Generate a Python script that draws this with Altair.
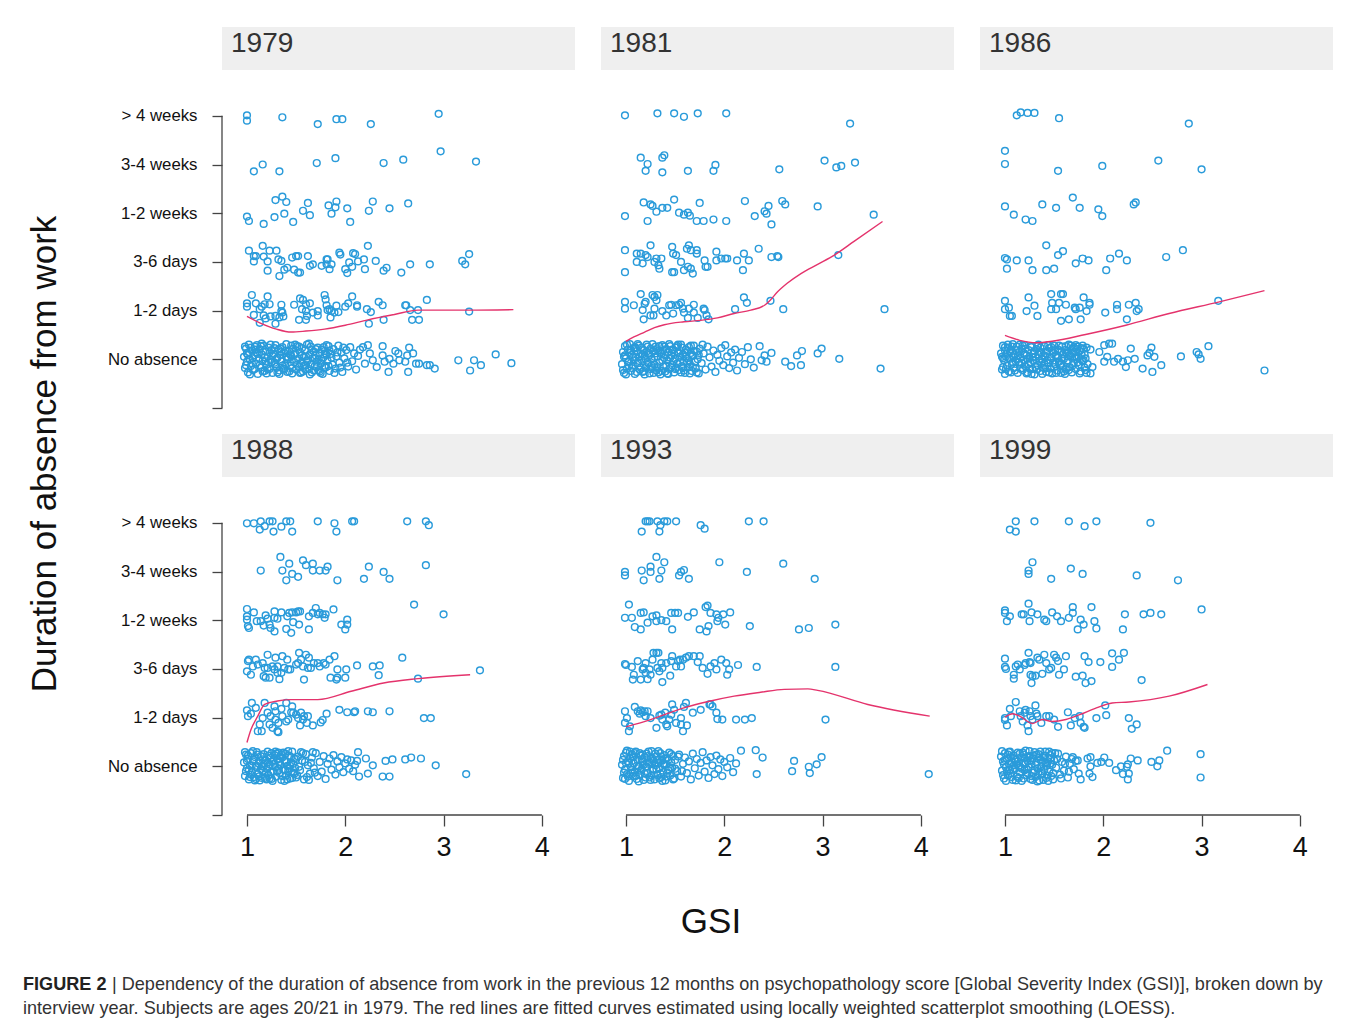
import json
import altair as alt
import pandas as pd

FONT = "Liberation Sans"
BLUE = "#2A9BDA"
RED = "#E4336C"
AXC = "#444444"
STRIP_FILL = "#EFEFEF"

CATEGORIES = ["No absence", "1-2 days", "3-6 days", "1-2 weeks", "3-4 weeks", "> 4 weeks"]
YEARS = ["1979", "1981", "1986", "1988", "1993", "1999"]
X_TICKS = [1, 2, 3, 4]
Y_TICKS = [-1, 0, 1, 2, 3, 4, 5]
Y_TITLE = "Duration of absence from work"
X_TITLE = "GSI"
CAP_BOLD = "FIGURE 2"
CAP_1 = "| Dependency of the duration of absence from work in the previous 12 months on psychopathology score [Global Severity Index (GSI)], broken down by"
CAP_2 = "interview year. Subjects are ages 20/21 in 1979. The red lines are fitted curves estimated using locally weighted scatterplot smoothing (LOESS)."

# ---------------- 1979 (gsi, jittered level) ----------------
P1979_GT4W = [(1.00,5.01),(1.00,4.90),(1.36,4.97),(1.72,4.83),(1.91,4.93),(1.97,4.93),(2.26,4.83),(2.95,5.04)]
P1979_W34 = [(1.07,3.86),(1.16,4.00),(1.33,3.86),(1.71,4.03),(1.90,4.13),(2.39,4.03),(2.59,4.10),(2.97,4.27),(3.33,4.06)]
P1979_W12 = [(1.00,2.93),(1.02,2.84),(1.17,2.78),(1.28,2.92),(1.29,3.27),(1.36,3.34),(1.40,3.23),(1.38,2.99),(1.47,2.82),(1.57,3.05),(1.62,3.21),(1.64,2.96),(1.83,3.16),(1.91,3.24),(1.90,3.12),(1.86,2.99),(2.02,3.10),(2.05,2.82),(2.24,3.05),(2.28,3.24),(2.45,3.10),(2.64,3.20)]
P1979_D36 = [(1.02,2.23),(1.07,2.12),(1.07,2.01),(1.09,2.12),(1.16,2.33),(1.17,2.11),(1.21,2.01),(1.23,2.23),(1.21,1.82),(1.30,2.23),(1.32,2.05),(1.35,2.02),(1.33,1.71),(1.38,1.84),(1.41,1.88),(1.46,2.09),(1.50,2.12),(1.52,2.12),(1.48,1.84),(1.52,1.78),(1.54,1.78),(1.62,2.12),(1.64,1.92),(1.67,1.95),(1.76,1.92),(1.81,2.05),(1.82,2.05),(1.84,1.85),(1.81,1.95),(1.86,1.95),(1.94,2.19),(1.95,2.15),(2.00,1.85),(2.02,1.77),(2.04,1.99),(2.08,2.18),(2.10,2.16),(2.13,2.01),(2.07,1.90),(2.20,1.85),(2.23,2.33),(2.19,2.05),(2.31,2.02),(2.39,1.82),(2.42,1.88),(2.57,1.78),(2.66,1.95),(2.86,1.95),(3.19,2.02),(3.22,1.95),(3.26,2.16)]
P1979_D12 = [(1.00,1.15),(1.00,1.08),(1.05,1.32),(1.09,1.15),(1.07,0.91),(1.13,1.03),(1.15,1.08),(1.18,1.13),(1.21,1.29),(1.23,1.13),(1.17,0.90),(1.13,0.75),(1.19,0.84),(1.24,0.88),(1.29,0.89),(1.29,0.73),(1.35,1.12),(1.35,0.99),(1.36,0.96),(1.33,0.86),(1.37,0.88),(1.48,1.12),(1.54,1.25),(1.57,1.22),(1.56,1.03),(1.53,0.81),(1.60,1.13),(1.60,0.99),(1.61,0.89),(1.60,0.81),(1.64,1.15),(1.67,0.96),(1.72,0.99),(1.72,0.90),(1.79,1.32),(1.80,1.23),(1.81,1.11),(1.82,1.01),(1.84,1.03),(1.86,0.99),(1.89,0.96),(1.91,1.10),(1.93,0.97),(1.85,0.86),(2.00,1.08),(2.03,1.15),(2.07,1.29),(2.12,1.11),(2.12,1.08),(2.22,1.03),(2.26,0.97),(2.24,0.73),(2.34,1.18),(2.38,1.11),(2.39,0.81),(2.61,1.11),(2.62,1.11),(2.66,1.01),(2.68,0.81),(2.74,1.01),(2.75,0.81),(2.83,1.22),(3.26,0.98)]
P1979_NONE = [(0.97,0.05),(0.98,-0.18),(0.99,0.22),(1.00,-0.05),(1.00,0.12),(1.01,-0.27),(1.02,0.30),(1.03,0.00),(1.04,-0.14),(1.05,0.18),(1.06,-0.22),(1.07,0.08),(1.08,0.26),(1.09,-0.09),(1.10,0.14),(1.11,-0.30),(1.12,0.02),(1.13,0.21),(1.14,-0.17),(1.15,0.10),(1.16,-0.03),(1.17,0.28),(1.18,-0.24),(1.19,0.16),(1.20,-0.11),(1.21,0.06),(1.22,0.24),(1.23,-0.20),(1.24,-0.01),(1.25,0.19),(1.26,-0.28),(1.27,0.11),(1.28,-0.07),(1.29,0.29),(1.30,-0.15),(1.31,0.03),(1.32,0.20),(1.33,-0.23),(1.34,0.09),(1.35,-0.04),(1.36,0.25),(1.37,-0.19),(1.38,0.13),(1.39,-0.10),(1.40,0.31),(1.41,-0.26),(1.42,0.04),(1.43,0.17),(1.44,-0.13),(1.45,0.07),(1.46,-0.29),(1.47,0.22),(1.48,-0.06),(1.49,0.12),(1.50,-0.21),(1.51,0.27),(1.52,0.01),(1.53,-0.16),(1.54,0.15),(1.55,-0.08),(1.56,0.23),(1.57,-0.25),(1.58,0.05),(1.59,0.18),(1.60,-0.12),(1.61,0.30),(1.62,-0.02),(1.63,-0.20),(1.64,0.10),(1.65,0.26),(1.66,-0.27),(1.67,0.02),(1.68,0.16),(1.69,-0.14),(1.70,0.08),(1.71,-0.05),(1.72,0.24),(1.73,-0.22),(1.74,0.13),(1.75,-0.09),(1.76,0.20),(1.77,-0.30),(1.78,0.04),(1.79,0.17),(1.80,-0.17),(1.81,0.09),(1.82,-0.03),(1.83,0.27),(1.84,-0.24),(1.85,0.11),(1.87,-0.11),(1.88,0.21),(1.90,-0.19),(1.91,0.06),(1.93,0.28),(1.94,-0.07),(1.96,0.14),(1.97,-0.26),(1.99,0.02),(2.01,0.19),(2.03,-0.15),(2.05,0.25),(2.07,-0.04),(2.09,0.12),(2.11,-0.21),(2.13,0.07),(2.15,0.20),
              (0.98,0.26),(1.01,0.09),(1.03,-0.31),(1.05,-0.08),(1.08,-0.20),(1.10,0.29),(1.13,-0.12),(1.15,0.32),(1.18,0.04),(1.20,-0.29),(1.23,0.14),(1.25,-0.06),(1.28,0.23),(1.30,0.01),(1.33,-0.30),(1.35,0.16),(1.38,-0.21),(1.40,0.05),(1.43,-0.25),(1.45,0.28),(1.48,0.09),(1.50,-0.01),(1.53,0.26),(1.55,-0.27),(1.58,-0.13),(1.60,0.06),(1.63,0.32),(1.65,-0.10),(1.68,-0.23),(1.70,0.21),(1.73,0.00),(1.75,-0.28),(1.78,0.25),(1.80,0.12),(1.83,-0.14),(1.86,0.03),
              (2.18,0.25),(2.23,0.29),(2.25,0.12),(2.20,-0.09),(2.28,-0.02),(2.32,-0.16),(2.38,0.27),(2.38,0.08),(2.40,-0.05),(2.44,-0.26),(2.45,0.01),(2.49,-0.09),(2.51,0.17),(2.54,0.12),(2.55,-0.02),(2.61,-0.05),(2.63,0.08),(2.65,0.24),(2.64,-0.26),(2.69,0.12),(2.72,-0.09),(2.75,-0.09),(2.83,-0.12),(2.86,-0.12),(2.91,-0.19),(3.15,-0.02),(3.31,-0.02),(3.27,-0.23),(3.38,-0.12),(3.53,0.10),(3.69,-0.08)]
P1979_NONE_B = [(0.99,-0.12),(1.02,0.15),(1.04,0.24),(1.06,0.02),(1.09,0.20),(1.11,0.11),(1.14,0.27),(1.16,-0.25),(1.19,-0.04),(1.21,-0.20),(1.24,0.30),(1.26,0.07),(1.29,-0.10),(1.31,-0.27),(1.34,0.22),(1.36,-0.13),(1.39,0.17),(1.41,0.00),(1.44,0.10),(1.46,-0.18),(1.49,0.30),(1.51,-0.11),(1.54,-0.28),(1.56,0.08),(1.59,-0.20),(1.61,-0.04),(1.64,-0.31),(1.66,0.19),(1.69,0.03),(1.71,-0.15),(1.74,-0.25),(1.76,-0.03),(1.79,-0.13),(1.81,0.29),(1.84,0.18),(1.89,-0.28),(1.92,0.14),(1.95,-0.17),(1.98,0.24),(2.02,-0.07)]
L1979 = [(1.00,0.88),(1.13,0.75),(1.30,0.62),(1.45,0.56),(1.60,0.58),(1.79,0.62),(2.00,0.70),(2.23,0.81),(2.50,0.92),(2.74,1.01),(2.91,1.01),(3.25,1.01),(3.71,1.02)]

# ---------------- 1981 ----------------
P1981_GT4W = [(0.99,5.01),(1.32,5.05),(1.49,5.05),(1.59,4.98),(1.73,5.05),(2.02,5.05),(3.28,4.84)]
P1981_W34 = [(1.15,4.14),(1.22,4.01),(1.20,3.87),(1.37,4.14),(1.39,4.19),(1.37,3.84),(1.63,3.87),(1.91,3.99),(1.89,3.87),(2.56,3.90),(3.02,4.08),(3.14,3.94),(3.19,3.97),(3.33,4.04)]
P1981_W12 = [(0.99,2.94),(1.18,3.22),(1.25,3.18),(1.27,3.15),(1.31,3.03),(1.37,3.11),(1.42,3.11),(1.49,3.28),(1.22,2.84),(1.54,3.01),(1.59,2.97),(1.63,3.01),(1.65,2.95),(1.75,3.21),(1.72,2.84),(1.79,2.84),(1.89,2.87),(2.02,2.84),(2.21,3.25),(2.31,2.94),(2.41,3.04),(2.43,2.99),(2.45,3.15),(2.48,2.77),(2.59,3.25),(2.62,3.18),(2.95,3.14),(3.52,2.97)]
P1981_D36 = [(0.99,2.24),(0.99,1.79),(1.11,2.17),(1.11,2.00),(1.15,2.17),(1.17,1.97),(1.20,2.14),(1.22,2.10),(1.25,2.34),(1.29,2.00),(1.31,2.07),(1.33,1.93),(1.34,1.86),(1.36,2.07),(1.47,2.31),(1.48,2.17),(1.51,2.14),(1.47,1.79),(1.49,1.79),(1.56,2.00),(1.59,1.83),(1.62,2.27),(1.64,2.34),(1.66,2.24),(1.63,1.90),(1.66,1.86),(1.68,1.76),(1.72,2.24),(1.72,2.17),(1.80,2.03),(1.83,1.90),(1.81,1.90),(1.92,2.21),(1.92,2.03),(1.97,2.07),(2.01,2.07),(2.03,2.07),(2.13,2.03),(2.20,2.17),(2.19,1.83),(2.25,2.03),(2.35,2.27),(2.48,2.10),(2.54,2.12),(2.55,2.10),(3.16,2.14)]
P1981_D12 = [(0.99,1.18),(0.99,1.04),(1.08,1.11),(1.15,1.34),(1.17,1.01),(1.19,1.14),(1.20,1.18),(1.27,1.32),(1.29,1.28),(1.31,1.21),(1.29,1.04),(1.32,1.32),(1.25,0.90),(1.28,0.90),(1.37,0.99),(1.41,0.90),(1.44,1.11),(1.46,1.12),(1.48,0.94),(1.51,1.11),(1.54,1.12),(1.56,1.16),(1.58,1.04),(1.59,0.96),(1.63,0.85),(1.64,1.04),(1.69,1.12),(1.69,0.96),(1.73,0.85),(1.79,1.04),(1.80,1.01),(1.82,0.90),(1.84,0.82),(2.11,1.03),(2.20,1.27),(2.23,1.16),(2.47,1.20),(2.60,1.03),(3.63,1.03),(1.18,0.82)]
P1981_NONE = [(0.96,-0.10),(0.97,0.15),(0.98,-0.28),(0.99,0.27),(1.00,0.02),(1.01,-0.19),(1.02,0.20),(1.03,-0.04),(1.04,0.31),(1.05,-0.24),(1.06,0.09),(1.07,-0.13),(1.08,0.23),(1.09,-0.30),(1.10,0.04),(1.11,0.17),(1.12,-0.08),(1.13,0.28),(1.14,-0.21),(1.15,0.12),(1.16,-0.01),(1.17,-0.26),(1.18,0.19),(1.19,0.07),(1.20,-0.16),(1.21,0.30),(1.22,-0.06),(1.23,0.13),(1.24,-0.29),(1.25,0.22),(1.26,0.00),(1.27,-0.18),(1.28,0.16),(1.29,-0.11),(1.30,0.26),(1.31,-0.23),(1.32,0.06),(1.33,0.18),(1.34,-0.07),(1.35,-0.31),(1.36,0.11),(1.37,0.29),(1.38,-0.15),(1.39,0.03),(1.40,-0.25),(1.41,0.21),(1.42,-0.02),(1.43,0.14),(1.44,-0.20),(1.45,0.27),(1.46,0.08),(1.47,-0.12),(1.48,0.19),(1.49,-0.27),(1.50,0.01),(1.51,0.24),(1.52,-0.09),(1.53,0.15),(1.54,-0.22),(1.55,0.05),(1.56,0.30),(1.57,-0.14),(1.58,0.10),(1.59,-0.04),(1.60,-0.28),(1.61,0.20),(1.62,0.02),(1.63,-0.17),(1.64,0.25),(1.65,-0.10),(1.66,0.13),(1.67,-0.24),(1.68,0.07),(1.69,0.28),(1.70,-0.05),(1.71,-0.19),(1.72,0.16),(1.73,0.00),(1.74,-0.29),(1.75,0.22),(1.77,-0.08),(1.79,0.12),(1.81,-0.21),(1.83,0.26),(1.85,0.04),(1.87,-0.15),(1.89,0.18),(1.91,-0.26),(1.93,0.09),(1.95,-0.03),(1.97,0.23),(1.99,-0.12),(2.01,0.29),(2.03,0.06),(2.05,-0.18),(2.07,0.14),(2.09,-0.07),(2.11,0.20),(2.13,-0.23),(2.15,0.03),(2.18,0.15),(2.21,-0.10),(2.24,0.25),(2.27,0.00),(2.30,-0.17),
              (0.97,-0.22),(0.99,0.08),(1.01,0.30),(1.03,-0.14),(1.05,0.19),(1.07,0.04),(1.09,0.25),(1.11,-0.26),(1.13,-0.03),(1.15,-0.17),(1.17,0.10),(1.19,-0.31),(1.21,0.16),(1.23,-0.09),(1.25,-0.20),(1.27,0.31),(1.29,0.05),(1.31,0.21),(1.33,-0.27),(1.35,0.14),(1.37,-0.02),(1.39,0.26),(1.41,-0.13),(1.43,-0.30),(1.45,0.03),(1.47,0.20),(1.49,0.11),(1.51,-0.18),(1.53,0.30),(1.55,-0.06),(1.57,0.24),(1.59,-0.23),(1.61,0.06),(1.63,0.17),(1.65,-0.29),(1.67,0.09),
              (2.36,0.27),(2.38,-0.02),(2.43,-0.05),(2.41,0.08),(2.48,0.13),(2.62,-0.05),(2.68,-0.14),(2.74,0.08),(2.79,0.17),(2.78,-0.12),(2.95,0.12),(2.99,0.22),(3.17,0.01),(3.59,-0.19)]
P1981_NONE_B = [(0.98,0.05),(1.00,-0.31),(1.02,-0.06),(1.04,0.13),(1.06,-0.18),(1.08,-0.02),(1.10,0.23),(1.12,0.31),(1.14,0.06),(1.16,0.24),(1.18,-0.24),(1.20,0.01),(1.22,0.26),(1.24,0.09),(1.26,-0.13),(1.28,-0.28),(1.30,0.12),(1.32,-0.16),(1.34,0.27),(1.36,-0.24),(1.38,0.18),(1.40,0.08),(1.42,-0.29),(1.44,0.31),(1.46,-0.16),(1.48,-0.04),(1.50,-0.20),(1.52,0.27),(1.54,0.12),(1.56,-0.27),(1.58,-0.18),(1.60,0.14),(1.62,-0.07),(1.64,-0.02),(1.66,0.28),(1.68,-0.16),(1.70,0.17),(1.72,-0.27),(1.74,0.09),(1.78,0.30)]
L1981 = [(1.00,0.37),(1.08,0.46),(1.19,0.56),(1.29,0.65),(1.39,0.71),(1.59,0.77),(1.76,0.80),(1.93,0.85),(2.10,0.94),(2.27,1.01),(2.41,1.11),(2.47,1.22),(2.54,1.38),(2.64,1.56),(2.78,1.76),(2.95,1.95),(3.12,2.14),(3.32,2.42),(3.61,2.83)]

# ---------------- 1986 ----------------
P1986_GT4W = [(1.12,5.01),(1.16,5.07),(1.23,5.06),(1.30,5.06),(1.55,4.95),(2.87,4.84)]
P1986_W34 = [(1.00,4.28),(1.00,4.01),(1.54,3.87),(1.99,3.97),(2.56,4.08),(3.00,3.90)]
P1986_W12 = [(1.00,3.14),(1.09,2.97),(1.21,2.87),(1.28,2.84),(1.38,3.18),(1.52,3.11),(1.69,3.32),(1.76,3.11),(1.95,3.08),(1.99,2.94),(2.31,3.18),(2.33,3.22)]
P1986_D36 = [(1.00,2.08),(1.02,2.05),(1.02,1.86),(1.12,2.03),(1.24,2.03),(1.28,1.83),(1.42,2.34),(1.42,1.83),(1.50,1.86),(1.54,2.14),(1.59,2.22),(1.72,1.97),(1.79,2.07),(1.85,2.03),(2.03,1.83),(2.07,2.07),(2.16,2.17),(2.24,2.03),(2.64,2.10),(2.81,2.24)]
P1986_D12 = [(1.00,1.20),(1.00,1.03),(1.04,1.06),(1.05,0.89),(1.07,0.89),(1.24,1.27),(1.30,1.10),(1.22,0.99),(1.33,0.89),(1.47,1.34),(1.48,1.16),(1.57,1.34),(1.59,1.34),(1.55,1.16),(1.47,1.03),(1.52,1.03),(1.62,1.12),(1.71,1.06),(1.72,1.03),(1.76,1.06),(1.80,1.27),(1.86,1.16),(1.86,1.12),(1.83,0.99),(1.57,0.79),(1.65,0.82),(1.77,0.82),(2.02,0.96),(2.14,1.12),(2.14,1.03),(2.26,1.12),(2.33,1.16),(2.36,1.03),(2.34,0.99),(2.24,0.82),(3.17,1.20)]
P1986_NONE = [(0.96,0.12),(0.97,-0.21),(0.98,0.28),(0.99,-0.02),(1.00,0.18),(1.00,-0.30),(1.01,0.06),(1.02,-0.13),(1.03,0.24),(1.04,-0.25),(1.05,0.01),(1.06,0.20),(1.07,-0.09),(1.08,0.31),(1.09,-0.18),(1.10,0.10),(1.11,-0.04),(1.12,0.26),(1.13,-0.28),(1.14,0.15),(1.15,-0.11),(1.16,0.04),(1.17,0.22),(1.18,-0.22),(1.19,-0.01),(1.20,0.29),(1.21,-0.15),(1.22,0.08),(1.23,-0.27),(1.24,0.19),(1.25,0.02),(1.26,-0.07),(1.27,0.25),(1.28,-0.20),(1.29,0.12),(1.30,-0.31),(1.31,0.05),(1.32,0.21),(1.33,-0.12),(1.34,0.30),(1.35,-0.03),(1.36,-0.24),(1.37,0.14),(1.38,0.00),(1.39,-0.17),(1.40,0.27),(1.41,0.07),(1.42,-0.26),(1.43,0.17),(1.44,-0.08),(1.45,0.23),(1.46,-0.19),(1.47,0.03),(1.48,-0.29),(1.49,0.13),(1.50,0.28),(1.51,-0.10),(1.52,0.09),(1.53,-0.23),(1.54,0.20),(1.55,-0.05),(1.56,0.16),(1.57,-0.28),(1.58,0.26),(1.59,-0.14),(1.60,0.01),(1.61,0.19),(1.62,-0.21),(1.63,0.11),(1.64,-0.02),(1.65,0.30),(1.66,-0.16),(1.67,0.06),(1.68,-0.27),(1.69,0.22),(1.70,-0.08),(1.71,0.14),(1.72,-0.20),(1.73,0.04),(1.74,0.26),(1.75,-0.12),(1.76,0.17),(1.77,-0.25),(1.78,0.09),(1.79,-0.04),(1.80,0.21),(1.81,-0.17),(1.82,0.02),(1.83,0.24),(1.84,-0.10),
              (0.97,0.05),(0.98,-0.16),(1.00,0.25),(1.02,0.11),(1.04,0.03),(1.06,-0.27),(1.08,-0.06),(1.10,-0.23),(1.12,0.00),(1.14,-0.06),(1.16,-0.19),(1.18,0.28),(1.20,0.09),(1.22,-0.29),(1.24,-0.10),(1.26,0.27),(1.28,0.04),(1.30,0.17),(1.32,-0.21),(1.34,0.10),(1.36,0.24),(1.38,-0.30),(1.40,-0.09),(1.42,0.13),(1.44,0.29),(1.46,-0.02),(1.48,0.18),(1.50,-0.16),(1.52,-0.28),(1.54,0.06),(1.56,-0.12),(1.58,0.02),(1.60,-0.25),(1.62,0.27),(1.64,0.15),(1.66,0.08),(1.68,0.12),(1.70,0.25),(1.72,0.29),(1.74,-0.06),(1.76,-0.29),(1.78,0.23),(1.80,-0.02),(1.82,-0.22),
              (1.87,0.20),(1.89,-0.16),(1.87,-0.29),(1.96,0.15),(2.01,0.29),(2.04,0.05),(2.06,0.32),(2.09,0.32),(2.11,-0.05),(2.01,-0.05),(2.15,0.01),(2.20,-0.05),(2.23,-0.16),(2.25,-0.02),(2.28,0.22),(2.32,0.01),(2.40,-0.19),(2.45,0.08),(2.47,0.13),(2.49,0.24),(2.52,0.05),(2.50,-0.26),(2.59,-0.12),(2.79,0.06),(2.95,0.15),(2.97,0.10),(2.99,0.01),(3.07,0.27),(3.64,-0.23)]
P1986_NONE_B = [(0.98,0.02),(1.01,-0.20),(1.03,0.30),(1.05,0.15),(1.07,0.26),(1.09,0.04),(1.11,0.19),(1.13,0.07),(1.15,0.30),(1.17,-0.08),(1.19,0.13),(1.21,0.22),(1.23,0.01),(1.25,-0.19),(1.27,-0.30),(1.29,-0.03),(1.31,-0.16),(1.33,0.27),(1.35,0.15),(1.37,-0.07),(1.39,0.08),(1.41,-0.19),(1.43,-0.02),(1.45,-0.27),(1.47,0.25),(1.49,-0.07),(1.51,0.19),(1.53,0.03),(1.55,0.28),(1.57,-0.09),(1.59,0.10),(1.61,-0.30),(1.63,-0.07),(1.65,-0.22),(1.67,0.28),(1.69,-0.12),(1.71,0.04),(1.73,0.21),(1.75,0.05),(1.77,0.00),(1.79,0.28),(1.81,0.10),(1.83,-0.28)]
L1986 = [(1.00,0.49),(1.15,0.39),(1.32,0.34),(1.48,0.37),(1.82,0.51),(2.23,0.70),(2.67,0.94),(3.18,1.18),(3.64,1.41)]

# ---------------- 1988 ----------------
P1988_GT4W = [(1.00,4.99),(1.07,4.99),(1.13,4.86),(1.14,5.03),(1.18,4.93),(1.23,5.03),(1.26,5.03),(1.27,4.82),(1.35,4.92),(1.40,5.03),(1.44,5.03),(1.46,4.82),(1.72,5.03),(1.89,4.99),(1.91,4.82),(2.07,5.03),(2.09,5.03),(2.63,5.03),(2.82,5.03),(2.85,4.95)]
P1988_W34 = [(1.14,4.02),(1.34,4.30),(1.36,4.02),(1.43,4.16),(1.40,3.82),(1.46,3.95),(1.52,3.89),(1.57,4.23),(1.60,4.13),(1.67,4.16),(1.67,4.02),(1.74,4.02),(1.80,4.02),(1.82,4.10),(1.92,3.82),(2.19,3.85),(2.24,4.10),(2.39,3.99),(2.45,3.85),(2.82,4.13)]
P1988_W12 = [(1.00,3.23),(1.00,3.08),(1.00,3.01),(1.01,2.88),(1.02,2.84),(1.07,3.16),(1.10,2.98),(1.14,2.98),(1.17,2.89),(1.19,3.10),(1.21,3.03),(1.23,2.91),(1.24,2.84),(1.28,3.18),(1.28,3.05),(1.28,2.77),(1.31,3.03),(1.35,3.16),(1.40,2.82),(1.41,3.08),(1.43,3.15),(1.45,2.74),(1.46,3.16),(1.47,2.96),(1.50,3.16),(1.52,3.18),(1.53,2.91),(1.54,3.18),(1.63,2.81),(1.63,3.08),(1.67,3.15),(1.70,3.25),(1.72,3.12),(1.74,3.15),(1.77,3.12),(1.79,3.05),(1.80,3.12),(1.88,3.22),(1.96,2.91),(2.00,2.81),(2.02,3.01),(2.02,2.91),(2.70,3.32),(3.00,3.12)]
P1988_D36 = [(1.00,1.95),(1.01,2.16),(1.02,2.19),(1.04,1.88),(1.06,2.05),(1.09,2.19),(1.11,2.09),(1.16,2.12),(1.17,1.85),(1.18,2.02),(1.19,1.82),(1.21,2.29),(1.21,2.02),(1.23,1.82),(1.26,2.05),(1.28,1.99),(1.29,2.23),(1.31,1.92),(1.31,2.05),(1.33,1.79),(1.35,1.92),(1.36,2.26),(1.38,2.02),(1.41,2.19),(1.42,1.99),(1.44,1.99),(1.50,2.09),(1.52,2.12),(1.53,2.33),(1.55,2.19),(1.57,2.05),(1.58,1.78),(1.60,2.29),(1.62,2.02),(1.63,2.23),(1.65,2.02),(1.68,2.12),(1.72,2.12),(1.74,2.05),(1.78,2.12),(1.80,2.09),(1.84,2.19),(1.85,1.82),(1.89,2.26),(1.91,1.78),(1.92,1.99),(1.92,1.82),(2.00,1.82),(2.01,1.99),(2.12,2.07),(2.28,2.05),(2.35,2.07),(2.34,1.87),(2.58,2.23),(2.74,1.80),(3.37,1.97)]
P1988_D12 = [(1.00,1.15),(1.01,1.03),(1.04,1.08),(1.05,1.30),(1.09,1.20),(1.13,0.86),(1.11,0.72),(1.15,0.72),(1.16,0.99),(1.18,1.30),(1.21,1.10),(1.23,0.86),(1.24,1.03),(1.26,0.79),(1.28,1.23),(1.29,1.13),(1.29,0.96),(1.31,0.72),(1.32,0.89),(1.32,0.70),(1.35,1.18),(1.36,1.03),(1.40,1.30),(1.40,0.92),(1.42,0.96),(1.45,1.11),(1.46,1.23),(1.47,1.10),(1.50,1.06),(1.52,0.99),(1.54,0.84),(1.55,1.10),(1.57,0.96),(1.58,1.03),(1.61,0.89),(1.62,1.03),(1.67,0.84),(1.75,0.90),(1.77,0.95),(1.81,1.08),(1.94,1.16),(2.02,1.11),(2.09,1.11),(2.10,1.13),(2.23,1.13),(2.28,1.11),(2.45,1.13),(2.80,0.99),(2.87,0.99)]
P1988_NONE = [(0.97,0.08),(0.98,-0.20),(0.99,0.24),(1.00,-0.04),(1.01,0.15),(1.02,-0.27),(1.03,0.02),(1.04,0.27),(1.05,-0.12),(1.06,0.10),(1.07,-0.22),(1.08,0.19),(1.09,-0.02),(1.10,0.29),(1.11,-0.16),(1.12,0.06),(1.13,-0.29),(1.14,0.21),(1.15,0.00),(1.16,-0.09),(1.17,0.25),(1.18,-0.24),(1.19,0.12),(1.20,-0.05),(1.21,0.30),(1.22,-0.18),(1.23,0.04),(1.24,0.17),(1.25,-0.26),(1.26,0.09),(1.27,-0.11),(1.28,0.23),(1.29,-0.01),(1.30,-0.21),(1.31,0.14),(1.32,0.28),(1.33,-0.14),(1.34,0.03),(1.35,-0.28),(1.36,0.18),(1.37,-0.06),(1.38,0.11),(1.39,0.26),(1.40,-0.19),(1.41,0.01),(1.42,-0.10),(1.43,0.22),(1.44,-0.25),(1.45,0.07),(1.46,0.30),(1.47,-0.13),(1.48,0.16),(1.49,-0.03),(1.50,-0.23),(1.52,0.20),(1.54,-0.08),(1.56,0.12),(1.58,-0.27),(1.60,0.25),(1.62,0.02),(1.64,-0.15),(1.66,0.18),(1.68,-0.04),(1.70,0.27),(1.72,-0.20),(1.74,0.09),(1.76,-0.11),(1.78,0.21),(1.80,-0.26),(1.82,0.05),(1.84,0.16),(1.86,-0.07),(1.88,0.23),(1.90,-0.17),(1.92,0.10),(1.94,-0.02),(1.96,0.19),(1.98,-0.12),(2.00,0.06),(2.02,0.14),(2.04,-0.05),(2.06,0.12),(2.08,-0.10),(2.10,0.03),
              (0.98,0.29),(1.00,0.11),(1.02,-0.08),(1.04,-0.17),(1.06,0.31),(1.08,-0.29),(1.10,0.01),(1.12,-0.21),(1.14,-0.06),(1.16,0.14),(1.18,0.06),(1.20,-0.27),(1.22,0.22),(1.24,-0.12),(1.26,-0.30),(1.28,0.05),(1.30,0.26),(1.32,-0.05),(1.34,0.20),(1.36,-0.20),(1.38,-0.30),(1.40,0.09),(1.42,0.31),(1.44,0.01),(1.46,-0.24),(1.48,-0.16),(1.50,0.15),(1.53,-0.01),(1.57,0.27),(1.61,-0.22),(1.65,0.07),(1.69,-0.13),
              (2.13,0.29),(2.12,0.11),(2.14,-0.21),(2.21,0.16),(2.23,-0.15),(2.28,0.02),(2.38,-0.21),(2.41,0.11),(2.45,-0.21),(2.48,0.14),(2.61,0.14),(2.67,0.18),(2.77,0.16),(2.92,0.02),(3.23,-0.16)]
P1988_NONE_B = [(0.99,-0.10),(1.01,0.22),(1.03,-0.22),(1.05,0.02),(1.07,0.13),(1.09,-0.26),(1.11,0.24),(1.13,0.11),(1.15,-0.24),(1.17,0.00),(1.19,-0.14),(1.21,0.08),(1.23,-0.25),(1.25,0.27),(1.27,0.13),(1.29,0.30),(1.31,-0.10),(1.33,0.09),(1.35,0.24),(1.37,0.28),(1.39,-0.08),(1.41,-0.27),(1.43,-0.04),(1.45,0.19),(1.47,0.05),(1.51,-0.18),(1.55,0.29),(1.59,0.09),(1.63,-0.28),(1.67,0.29)]
L1988 = [(1.00,0.49),(1.04,0.75),(1.11,1.03),(1.18,1.27),(1.31,1.34),(1.45,1.37),(1.72,1.37),(2.06,1.54),(2.39,1.71),(2.74,1.80),(3.27,1.88)]

# ---------------- 1993 ----------------
P1993_GT4W = [(1.16,4.82),(1.20,5.03),(1.22,5.03),(1.24,5.03),(1.32,5.03),(1.34,4.82),(1.35,4.95),(1.39,5.03),(1.42,5.03),(1.51,5.03),(1.76,4.95),(1.80,4.88),(2.25,5.03),(2.40,5.03)]
P1993_W34 = [(0.99,3.99),(0.99,3.92),(1.16,4.02),(1.18,3.82),(1.25,4.10),(1.25,3.99),(1.31,4.30),(1.34,3.85),(1.36,4.02),(1.39,4.19),(1.54,3.92),(1.56,3.99),(1.59,4.03),(1.64,3.85),(1.95,4.19),(2.23,3.99),(2.60,4.16),(2.92,3.85)]
P1993_W12 = [(1.03,3.32),(0.99,3.05),(1.06,3.05),(1.09,2.86),(1.15,2.81),(1.15,3.15),(1.18,3.16),(1.22,2.95),(1.27,3.08),(1.31,3.10),(1.31,2.98),(1.36,3.00),(1.41,2.98),(1.46,3.15),(1.47,2.81),(1.50,3.15),(1.53,3.15),(1.63,3.07),(1.69,3.16),(1.75,2.81),(1.81,3.27),(1.83,3.30),(1.84,2.88),(1.82,2.77),(1.86,3.15),(1.92,3.12),(1.93,2.98),(1.94,3.05),(1.99,3.12),(2.01,2.91),(2.06,3.16),(2.26,2.88),(2.76,2.81),(2.86,2.84),(3.13,2.91)]
P1993_D36 = [(0.99,2.10),(1.00,2.08),(1.06,2.04),(1.08,1.88),(1.07,1.78),(1.12,2.16),(1.15,1.78),(1.17,1.99),(1.18,2.02),(1.20,2.12),(1.20,1.92),(1.22,1.79),(1.24,1.99),(1.25,1.88),(1.27,2.19),(1.28,2.33),(1.31,2.33),(1.33,2.33),(1.32,2.02),(1.34,1.95),(1.36,2.12),(1.37,1.73),(1.37,2.02),(1.41,2.12),(1.45,1.86),(1.46,2.16),(1.47,2.26),(1.51,2.05),(1.53,2.16),(1.55,2.19),(1.56,2.05),(1.58,2.19),(1.61,2.23),(1.64,2.26),(1.69,2.26),(1.73,2.14),(1.75,2.26),(1.78,2.02),(1.83,1.90),(1.86,2.05),(1.90,2.12),(1.92,1.99),(1.97,2.19),(2.02,2.12),(2.03,1.88),(2.05,1.99),(2.14,2.08),(2.33,2.04),(3.13,2.04)]
P1993_D12 = [(0.99,1.13),(1.01,0.99),(0.99,0.89),(1.03,0.72),(1.04,0.82),(1.09,1.22),(1.12,1.13),(1.14,1.08),(1.15,1.15),(1.17,1.11),(1.19,1.13),(1.20,1.03),(1.22,1.13),(1.25,0.99),(1.31,0.79),(1.34,1.04),(1.36,1.06),(1.37,0.96),(1.40,1.10),(1.41,0.86),(1.42,0.82),(1.44,0.96),(1.46,1.06),(1.47,1.27),(1.49,1.16),(1.51,0.89),(1.56,0.99),(1.58,0.72),(1.56,0.86),(1.59,1.22),(1.61,1.30),(1.62,0.84),(1.68,1.10),(1.76,1.16),(1.85,1.27),(1.86,1.27),(1.88,1.23),(1.92,1.10),(1.93,0.97),(1.98,0.96),(2.12,0.96),(2.21,0.96),(2.28,0.99),(3.03,0.96)]
P1993_NONE = [(0.96,0.03),(0.97,-0.24),(0.98,0.21),(0.99,-0.07),(1.00,0.28),(1.01,-0.16),(1.02,0.10),(1.03,-0.30),(1.04,0.16),(1.05,-0.02),(1.06,0.25),(1.07,-0.20),(1.08,0.06),(1.09,-0.11),(1.10,0.30),(1.11,-0.26),(1.12,0.13),(1.13,0.00),(1.14,-0.17),(1.15,0.22),(1.16,-0.06),(1.17,0.09),(1.18,-0.28),(1.19,0.19),(1.20,-0.01),(1.21,0.26),(1.22,-0.14),(1.23,0.05),(1.24,-0.23),(1.25,0.15),(1.26,0.31),(1.27,-0.09),(1.28,0.11),(1.29,-0.27),(1.30,0.02),(1.31,0.20),(1.32,-0.18),(1.33,0.07),(1.34,-0.04),(1.35,0.27),(1.36,-0.22),(1.37,0.12),(1.38,-0.12),(1.39,0.23),(1.40,-0.29),(1.41,0.04),(1.42,0.17),(1.43,-0.08),(1.44,0.28),(1.45,-0.19),(1.46,0.08),(1.47,-0.03),(1.48,0.21),(1.49,-0.25),(1.50,0.13),(1.52,-0.10),(1.54,0.24),(1.56,-0.21),(1.58,0.05),(1.60,0.18),(1.62,-0.14),(1.64,0.10),(1.66,-0.27),(1.68,0.26),(1.70,-0.04),(1.72,0.15),(1.74,-0.19),(1.76,0.07),(1.78,0.29),(1.80,-0.11),(1.82,0.12),(1.84,-0.24),(1.86,0.19),(1.88,0.02),(1.90,-0.16),(1.92,0.22),(1.94,-0.06),(1.96,0.14),(1.98,-0.20),(2.00,0.09),(2.03,-0.02),(2.06,0.17),(2.09,-0.12),(2.12,0.06),
              (0.97,0.13),(0.99,-0.26),(1.01,0.32),(1.03,0.07),(1.05,-0.13),(1.07,0.19),(1.09,0.27),(1.11,0.01),(1.13,-0.31),(1.15,-0.09),(1.17,0.24),(1.19,-0.15),(1.21,0.00),(1.23,0.30),(1.25,-0.28),(1.27,0.16),(1.29,0.06),(1.31,-0.06),(1.33,0.31),(1.35,-0.15),(1.37,-0.30),(1.39,0.03),(1.41,-0.21),(1.43,0.13),(1.46,0.25),(1.50,-0.05),
              (2.17,0.32),(2.32,0.33),(2.33,-0.16),(2.39,0.18),(2.71,0.11),(2.69,-0.10),(2.86,-0.01),(2.87,-0.14),(2.94,0.04),(2.99,0.19),(4.08,-0.16)]
P1993_NONE_B = [(0.98,-0.13),(1.00,0.07),(1.02,-0.21),(1.04,0.30),(1.06,-0.08),(1.08,0.20),(1.10,-0.20),(1.12,-0.04),(1.14,0.27),(1.16,0.14),(1.18,0.03),(1.20,-0.23),(1.22,0.21),(1.24,0.08),(1.26,-0.19),(1.28,-0.05),(1.30,0.26),(1.32,0.13),(1.34,-0.25),(1.36,0.20),(1.38,0.05),(1.40,0.15),(1.42,-0.14),(1.45,-0.02),(1.48,-0.27),(1.53,0.20),(1.57,-0.10)]
L1993 = [(1.00,0.81),(1.25,0.96),(1.59,1.20),(1.86,1.34),(2.10,1.44),(2.37,1.52),(2.61,1.58),(2.85,1.59),(2.95,1.56),(3.46,1.27),(4.09,1.03)]

# ---------------- 1999 ----------------
P1999_GT4W = [(1.05,4.86),(1.11,5.03),(1.11,4.82),(1.30,5.03),(1.65,5.03),(1.81,4.93),(1.93,5.03),(2.48,5.00)]
P1999_W34 = [(1.28,4.19),(1.24,4.02),(1.24,3.95),(1.47,3.85),(1.67,4.06),(1.79,3.95),(2.34,3.92),(2.76,3.82)]
P1999_W12 = [(1.00,3.20),(1.00,3.15),(1.02,2.98),(1.05,3.08),(1.17,3.12),(1.19,3.12),(1.24,3.34),(1.25,2.98),(1.27,3.16),(1.33,3.12),(1.40,3.01),(1.42,2.98),(1.48,3.16),(1.53,3.08),(1.57,2.98),(1.65,3.05),(1.69,3.27),(1.69,3.15),(1.74,2.81),(1.77,3.01),(1.80,2.91),(1.88,3.27),(1.91,2.98),(1.93,2.83),(2.20,2.81),(2.22,3.12),(2.41,3.12),(2.48,3.15),(2.59,3.12),(3.00,3.22)]
P1999_D36 = [(1.00,2.21),(1.00,2.04),(1.01,2.00),(1.09,1.88),(1.11,2.05),(1.13,2.09),(1.09,1.80),(1.15,1.99),(1.20,2.08),(1.21,2.12),(1.24,2.33),(1.25,2.14),(1.26,1.88),(1.26,2.12),(1.27,1.71),(1.28,1.85),(1.31,1.86),(1.33,2.23),(1.35,2.19),(1.38,1.90),(1.40,2.29),(1.42,2.12),(1.45,1.99),(1.47,2.02),(1.50,2.29),(1.52,2.23),(1.54,2.16),(1.55,1.88),(1.60,1.99),(1.62,2.26),(1.72,1.84),(1.79,1.86),(1.81,2.26),(1.82,1.71),(1.85,2.14),(1.88,1.75),(1.97,2.14),(2.09,2.32),(2.09,2.04),(2.16,2.19),(2.21,2.33),(2.39,1.77)]
P1999_D12 = [(1.00,0.99),(1.00,0.95),(1.02,0.84),(1.05,1.18),(1.06,1.03),(1.11,1.32),(1.15,1.13),(1.16,1.03),(1.18,0.92),(1.20,1.10),(1.21,1.16),(1.23,0.84),(1.24,0.72),(1.25,1.13),(1.26,1.03),(1.28,0.96),(1.31,1.25),(1.32,1.08),(1.33,1.03),(1.37,0.89),(1.42,1.03),(1.45,1.03),(1.50,0.96),(1.54,0.81),(1.64,1.11),(1.67,0.84),(1.71,0.99),(1.76,1.03),(1.77,0.89),(1.80,0.81),(1.81,0.79),(1.93,0.99),(2.02,1.25),(2.03,1.05),(2.26,0.99),(2.29,0.77),(2.34,0.86)]
P1999_NONE = [(0.96,0.20),(0.97,-0.09),(0.98,0.10),(0.99,-0.25),(1.00,0.27),(1.01,-0.02),(1.02,0.15),(1.03,-0.19),(1.04,0.05),(1.05,0.30),(1.06,-0.14),(1.07,0.09),(1.08,-0.28),(1.09,0.22),(1.10,-0.05),(1.11,0.13),(1.12,-0.21),(1.13,0.28),(1.14,0.01),(1.15,-0.12),(1.16,0.18),(1.17,-0.30),(1.18,0.07),(1.19,0.24),(1.20,-0.08),(1.21,0.32),(1.22,-0.18),(1.23,0.11),(1.24,-0.02),(1.25,0.21),(1.26,-0.26),(1.27,0.04),(1.28,0.16),(1.29,-0.13),(1.30,0.29),(1.31,-0.22),(1.32,0.08),(1.33,-0.04),(1.34,0.25),(1.35,-0.29),(1.36,0.14),(1.37,0.00),(1.38,-0.16),(1.39,0.19),(1.40,-0.07),(1.41,0.30),(1.42,-0.24),(1.43,0.06),(1.44,0.17),(1.45,-0.11),(1.46,0.23),(1.47,-0.20),(1.48,0.03),(1.49,-0.27),(1.50,0.12),(1.52,-0.03),(1.54,0.26),(1.56,-0.17),(1.58,0.09),(1.60,-0.09),(1.62,0.20),(1.64,-0.23),(1.66,0.05),(1.68,0.15),(1.70,-0.06),(1.72,0.11),
              (0.97,0.31),(0.99,0.04),(1.01,-0.30),(1.03,0.24),(1.05,-0.07),(1.07,-0.22),(1.09,0.02),(1.11,-0.29),(1.13,0.10),(1.15,0.26),(1.17,-0.05),(1.19,-0.25),(1.21,0.06),(1.23,-0.14),(1.25,0.31),(1.27,-0.20),(1.29,0.22),(1.31,0.03),(1.33,-0.31),(1.35,0.18),(1.37,-0.10),(1.39,-0.28),(1.41,0.08),(1.43,-0.19),(1.45,0.30),(1.47,0.16),(1.49,-0.14),(1.51,0.27),
              (1.69,0.19),(1.74,0.12),(1.75,-0.15),(1.77,-0.27),(1.84,0.16),(1.87,0.19),(1.87,0.00),(1.86,-0.15),(1.89,-0.22),(1.94,0.07),(1.98,0.09),(2.01,0.18),(2.06,0.07),(2.13,-0.08),(2.18,0.00),(2.20,-0.16),(2.24,-0.01),(2.25,0.04),(2.26,-0.15),(2.25,-0.27),(2.28,0.16),(2.35,0.12),(2.49,0.09),(2.55,0.00),(2.57,0.12),(2.65,0.32),(2.99,0.25),(2.99,-0.23)]
P1999_NONE_B = [(0.98,-0.18),(1.00,0.13),(1.02,-0.10),(1.04,0.29),(1.06,0.19),(1.08,-0.06),(1.10,0.16),(1.12,0.04),(1.14,-0.24),(1.16,-0.02),(1.18,0.28),(1.20,0.17),(1.22,-0.06),(1.24,0.20),(1.26,0.12),(1.28,-0.28),(1.30,-0.08),(1.32,0.24),(1.34,-0.14),(1.36,0.30),(1.38,0.09),(1.40,0.22),(1.42,0.01),(1.44,-0.30),(1.46,0.06),(1.48,0.27),(1.53,0.15),(1.57,-0.25),(1.61,0.05),(1.65,-0.11)]
L1999 = [(1.00,1.01),(1.08,1.08),(1.15,1.03),(1.28,0.88),(1.38,0.96),(1.48,0.92),(1.62,0.96),(1.76,1.06),(1.93,1.20),(2.09,1.30),(2.26,1.32),(2.67,1.44),(3.06,1.68)]

POINTS = {
    "1979": [P1979_NONE, P1979_NONE_B, P1979_D12, P1979_D36, P1979_W12, P1979_W34, P1979_GT4W],
    "1981": [P1981_NONE, P1981_NONE_B, P1981_D12, P1981_D36, P1981_W12, P1981_W34, P1981_GT4W],
    "1986": [P1986_NONE, P1986_NONE_B, P1986_D12, P1986_D36, P1986_W12, P1986_W34, P1986_GT4W],
    "1988": [P1988_NONE, P1988_NONE_B, P1988_D12, P1988_D36, P1988_W12, P1988_W34, P1988_GT4W],
    "1993": [P1993_NONE, P1993_NONE_B, P1993_D12, P1993_D36, P1993_W12, P1993_W34, P1993_GT4W],
    "1999": [P1999_NONE, P1999_NONE_B, P1999_D12, P1999_D36, P1999_W12, P1999_W34, P1999_GT4W],
}
LOESS = {"1979": L1979, "1981": L1981, "1986": L1986, "1988": L1988, "1993": L1993, "1999": L1999}

# ---------------- layout ----------------
PW = 353
STRIP_H = 43
PLOT_H = 338
PH = STRIP_H + PLOT_H
PX_PER_Y = 48.7
X_DOMAIN = [0.746, 4.337]
Y_DOMAIN = [-1, -1 + PH / PX_PER_Y]

LABEL_EXPR = "datum.value < 0 ? '' : " + json.dumps(CATEGORIES) + "[datum.value]"


def panel(year, row, col):
    pts = pd.DataFrame([p for lst in POINTS[year] for p in lst], columns=["gsi", "y"])
    fit = pd.DataFrame(LOESS[year], columns=["gsi", "y"])
    xs = alt.Scale(domain=X_DOMAIN, nice=False, zero=False)
    ys = alt.Scale(domain=Y_DOMAIN, nice=False, zero=False)
    if row == 1:
        xa = alt.Axis(values=X_TICKS, format="d", domain=False, grid=False, tickSize=11,
                      tickColor=AXC, tickWidth=1.3, labelFontSize=27, labelFont=FONT,
                      labelColor="#111111", labelPadding=8, title=None)
    else:
        xa = None
    if col == 0:
        ya = alt.Axis(values=Y_TICKS, labelExpr=LABEL_EXPR, domain=False, grid=False, tickSize=10,
                      tickColor=AXC, tickWidth=1.3, labelFontSize=16.8, labelFont=FONT,
                      labelColor="#111111", labelPadding=15, title=None)
    else:
        ya = None

    def X(f="gsi"):
        return alt.X(f + ":Q", scale=xs, axis=xa)

    def Y(f="y"):
        return alt.Y(f + ":Q", scale=ys, axis=ya)

    lab = pd.DataFrame({"year": [year]})
    strip = alt.Chart(lab).mark_rect(color=STRIP_FILL).encode(
        x=alt.value(0), x2=alt.value(PW), y=alt.value(0), y2=alt.value(STRIP_H))
    strip_txt = alt.Chart(lab).mark_text(align="left", baseline="middle", fontSize=28, font=FONT,
                                         color="#333333").encode(
        x=alt.value(9), y=alt.value(17), text="year:N")
    points = alt.Chart(pts).mark_point(shape="circle", filled=False, size=46, strokeWidth=1.45,
                                       color=BLUE, opacity=1).encode(x=X(), y=Y())
    line = alt.Chart(fit).mark_line(color=RED, strokeWidth=1.4, interpolate="monotone").encode(x=X(), y=Y())
    layers = [strip, strip_txt, points, line]
    if col == 0:
        yl = alt.Chart(pd.DataFrame({"y": [Y_TICKS[0]], "y2": [Y_TICKS[-1]]})).mark_rule(
            color=AXC, strokeWidth=1.3).encode(x=alt.value(0), y=Y(), y2="y2:Q")
        layers.append(yl)
    if row == 1:
        xl = alt.Chart(pd.DataFrame({"gsi": [X_TICKS[0]], "gsi2": [X_TICKS[-1]]})).mark_rule(
            color=AXC, strokeWidth=1.3).encode(x=X(), x2="gsi2:Q", y=alt.value(PH))
        layers.append(xl)
    return alt.layer(*layers).properties(width=PW, height=PH)


row1 = alt.hconcat(*[panel(y, 0, i) for i, y in enumerate(YEARS[:3])], spacing=26)
row2 = alt.hconcat(*[panel(y, 1, i) for i, y in enumerate(YEARS[3:])], spacing=26)
grid = alt.vconcat(row1, row2, spacing=25)

ytitle = alt.Chart(pd.DataFrame({"t": [Y_TITLE]})).mark_text(
    angle=270, fontSize=35, font=FONT, color="#111111", align="center", baseline="middle").encode(
    x=alt.value(37), y=alt.value(427), text="t:N").properties(width=72, height=780)

top = alt.hconcat(ytitle, grid, spacing=27)

bottom_df = pd.DataFrame({"gsi": [X_TITLE], "b": [CAP_BOLD], "c1": [CAP_1], "c2": [CAP_2]})
bbase = alt.Chart(bottom_df)
gsi_t = bbase.mark_text(fontSize=35, font=FONT, color="#111111", align="center", baseline="middle").encode(
    x=alt.value(703), y=alt.value(62), text="gsi:N")
cb = bbase.mark_text(fontSize=18.1, font=FONT, fontWeight="bold", color="#222222", align="left",
                     baseline="middle").encode(x=alt.value(15), y=alt.value(125), text="b:N")
c1 = bbase.mark_text(fontSize=18.1, font=FONT, color="#333333", align="left", baseline="middle").encode(
    x=alt.value(104), y=alt.value(125), text="c1:N")
c2 = bbase.mark_text(fontSize=18.1, font=FONT, color="#333333", align="left", baseline="middle").encode(
    x=alt.value(15), y=alt.value(149), text="c2:N")
bottom = alt.layer(gsi_t, cb, c1, c2).properties(width=1320, height=155)

chart = alt.vconcat(top, bottom, spacing=0).properties(
    padding={"left": 0, "top": 19, "right": 0, "bottom": 0}
).configure_view(stroke=None)

chart.save("out.html", embed_options={"renderer": "svg", "actions": False})
